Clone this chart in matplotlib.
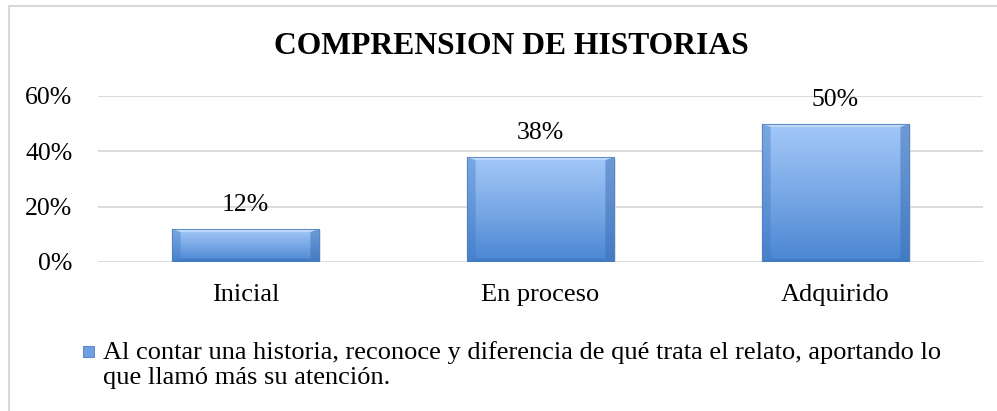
import numpy as np
import matplotlib.pyplot as plt
from matplotlib.patches import Rectangle, Polygon
from matplotlib.colors import LinearSegmentedColormap

plt.rcParams['font.family'] = ['Liberation Serif', 'DejaVu Serif']

categories = ['Inicial', 'En proceso', 'Adquirido']
values = [0.12, 0.38, 0.50]
value_labels = ['12%', '38%', '50%']
yticks = [0, 0.2, 0.4, 0.6]
ytick_labels = ['0%', '20%', '40%', '60%']
title = 'COMPRENSION DE HISTORIAS'
legend_text = ('Al contar una historia, reconoce y diferencia de qué trata el relato, aportando lo\n'
               'que llamó más su atención.')

fig = plt.figure(figsize=(9.97, 4.11), dpi=100)
# light chart-area border (only left/top visible in the crop)
fig.patches.append(Rectangle((8.5 / 997, -0.1), 1.2, 1.1 - 6.5 / 411, transform=fig.transFigure,
                             fill=False, edgecolor='#d9d9d9', linewidth=1.5))

ax = fig.add_axes([98 / 997, 149 / 411, 885 / 997, 166 / 411])
ax.set_xlim(-0.5, 2.5)
ax.set_ylim(0, 0.6)

cmap = LinearSegmentedColormap.from_list('bar', ['#4a86d2', '#7aa9e6', '#a3c8f8'])
grad = np.linspace(0, 1, 256).reshape(-1, 1)
width = 0.5
bars = ax.bar(range(len(values)), values, width=width, color='none', zorder=3)
for b in bars:
    x0, y0 = b.get_x(), b.get_y()
    w, h = b.get_width(), b.get_height()
    # soft shadow
    ax.add_patch(Rectangle((x0 + 0.005, y0 - 0.006), w, h, facecolor='#cccccc', edgecolor='none',
                           alpha=0.6, zorder=2))
    im = ax.imshow(grad, cmap=cmap, extent=(x0, x0 + w, y0, y0 + h), aspect='auto',
                   origin='lower', zorder=3)
    im.set_clip_path(Rectangle((x0, y0), w, h, transform=ax.transData))
    # bevel edges
    dx, dy = 0.03, 0.012
    ax.add_patch(Polygon([(x0, y0 + h), (x0 + w, y0 + h), (x0 + w - dx, y0 + h - dy), (x0 + dx, y0 + h - dy)],
                         closed=True, facecolor='#c6def9', edgecolor='none', alpha=0.8, zorder=4))
    ax.add_patch(Polygon([(x0, y0), (x0, y0 + h), (x0 + dx, y0 + h - dy), (x0 + dx, y0 + dy)],
                         closed=True, facecolor='#3f78c2', edgecolor='none', alpha=0.4, zorder=4))
    ax.add_patch(Polygon([(x0 + w, y0), (x0 + w, y0 + h), (x0 + w - dx, y0 + h - dy), (x0 + w - dx, y0 + dy)],
                         closed=True, facecolor='#3a6fb5', edgecolor='none', alpha=0.5, zorder=4))
    ax.add_patch(Polygon([(x0, y0), (x0 + w, y0), (x0 + w - dx, y0 + dy), (x0 + dx, y0 + dy)],
                         closed=True, facecolor='#3a6fb5', edgecolor='none', alpha=0.5, zorder=4))
    ax.add_patch(Rectangle((x0, y0), w, h, fill=False, edgecolor='#4f7fbf', linewidth=0.6, zorder=5))

for i, (v, lab) in enumerate(zip(values, value_labels)):
    ax.text(i, v + 0.087, lab, ha='center', va='center', fontsize=18.5, zorder=6)

ax.set_yticks(yticks)
ax.set_yticklabels(ytick_labels, fontsize=18.5)
ax.set_xticks(range(len(categories)))
ax.set_xticklabels(categories, fontsize=19)
ax.tick_params(axis='both', length=0)
ax.tick_params(axis='y', pad=18.5)
ax.tick_params(axis='x', pad=16)
ax.grid(axis='y', color='#d9d9d9', linewidth=1.3, zorder=0)
ax.set_axisbelow(True)
for s in ax.spines.values():
    s.set_visible(False)

fig.text(511 / 997, 1 - 47 / 411, title, ha='center', va='center', fontsize=22.8, fontweight='bold')

# legend marker and text
fig.patches.append(Rectangle((83 / 997, 1 - 357 / 411), 11 / 997, 11 / 411, transform=fig.transFigure,
                             facecolor='#6f9fe0', edgecolor='#4a7bc0', linewidth=0.6))
fig.text(103 / 997, 1 - 341 / 411, legend_text, ha='left', va='top', fontsize=19, linespacing=1.15)

fig.savefig('out.png', dpi=100)
